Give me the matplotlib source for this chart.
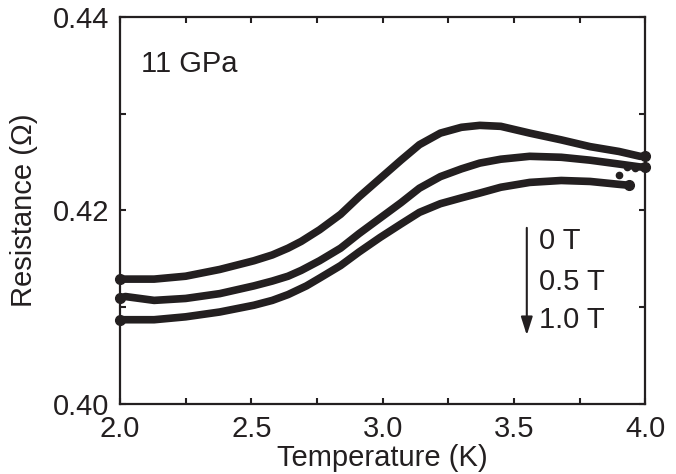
import matplotlib
matplotlib.use("Agg")
import matplotlib.pyplot as plt
from matplotlib.ticker import MultipleLocator

# -----------------------------
# Data
# -----------------------------
temp_0T = [2.00, 2.13, 2.25, 2.38, 2.51, 2.58, 2.64, 2.69, 2.76, 2.84,
           2.91, 2.99, 3.07, 3.14, 3.22, 3.30, 3.37, 3.45, 3.56, 3.68,
           3.79, 3.90, 3.98, 4.00]
res_0T = [0.4129, 0.4129, 0.4132, 0.4139, 0.4148, 0.4154, 0.4161, 0.4168,
          0.4180, 0.4196, 0.4214, 0.4233, 0.4252, 0.4268, 0.4280, 0.4286,
          0.4288, 0.4287, 0.4280, 0.4273, 0.4266, 0.4261, 0.4256, 0.4256]

temp_05T = [2.00, 2.02, 2.13, 2.25, 2.38, 2.51, 2.58, 2.64, 2.69, 2.76,
            2.84, 2.91, 2.99, 3.07, 3.14, 3.22, 3.30, 3.37, 3.45, 3.56,
            3.68, 3.79, 3.90, 3.98, 4.00]
res_05T = [0.4109, 0.4111, 0.4107, 0.4109, 0.4114, 0.4122, 0.4127, 0.4132,
           0.4138, 0.4148, 0.4161, 0.4176, 0.4192, 0.4208, 0.4223, 0.4235,
           0.4243, 0.4249, 0.4253, 0.4256, 0.4255, 0.4252, 0.4248, 0.4245,
           0.4245]

temp_10T = [2.00, 2.13, 2.25, 2.38, 2.51, 2.58, 2.64, 2.71, 2.76, 2.84,
            2.91, 2.99, 3.07, 3.14, 3.22, 3.30, 3.37, 3.45, 3.56, 3.68,
            3.79, 3.90, 3.94]
res_10T = [0.4087, 0.4087, 0.4090, 0.4095, 0.4102, 0.4107, 0.4113, 0.4122,
           0.4130, 0.4143, 0.4157, 0.4172, 0.4186, 0.4198, 0.4207, 0.4213,
           0.4218, 0.4224, 0.4229, 0.4231, 0.4230, 0.4227, 0.4226]

# stray points near the high-temperature end
stray_temp = [3.90, 3.93, 3.96]
stray_res = [0.4237, 0.4245, 0.4244]

field_labels = ["0 T", "0.5 T", "1.0 T"]

# -----------------------------
# Style
# -----------------------------
INK = "#231f20"
FONT_SIZE = 21

plt.rcParams["font.family"] = ["Liberation Sans", "DejaVu Sans"]

fig = plt.figure(figsize=(6.76, 4.74), dpi=100)
ax = fig.add_axes([0.1775, 0.148, 0.777, 0.816])

for t, r in [(temp_0T, res_0T), (temp_05T, res_05T), (temp_10T, res_10T)]:
    ax.plot(t, r, color=INK, linewidth=5.5, solid_capstyle="round",
            solid_joinstyle="round", clip_on=False, zorder=3)
    # thick end dots like the raw data points
    ax.plot([t[0], t[-1]], [r[0], r[-1]], "o", color=INK, markersize=7,
            clip_on=False, zorder=3)

ax.plot(stray_temp, stray_res, "o", color=INK, markersize=4.5, zorder=3)

ax.set_xlim(2.0, 4.0)
ax.set_ylim(0.40, 0.44)

ax.xaxis.set_major_locator(MultipleLocator(0.5))
ax.xaxis.set_minor_locator(MultipleLocator(0.25))
ax.yaxis.set_major_locator(MultipleLocator(0.02))
ax.yaxis.set_minor_locator(MultipleLocator(0.01))
ax.xaxis.set_major_formatter(plt.FuncFormatter(lambda v, _: f"{v:.1f}"))
ax.yaxis.set_major_formatter(plt.FuncFormatter(lambda v, _: f"{v:.2f}"))

ax.tick_params(which="both", direction="in", top=True, right=True,
               width=1.5, color=INK)
ax.tick_params(which="major", length=4.5, labelsize=FONT_SIZE,
               labelcolor=INK)
ax.tick_params(which="minor", length=4)
ax.tick_params(axis="x", pad=8)
ax.tick_params(axis="y", pad=8)

for spine in ax.spines.values():
    spine.set_color(INK)
    spine.set_linewidth(1.6)

ax.set_xlabel("Temperature (K)", fontsize=FONT_SIZE, color=INK, labelpad=1)
ax.set_ylabel("Resistance (\u03a9)", fontsize=FONT_SIZE, color=INK,
              labelpad=10)

ax.text(2.08, 0.4351, "11 GPa", fontsize=FONT_SIZE, color=INK,
        va="center", ha="left")

# field arrow and labels
ax.annotate("", xy=(3.549, 0.4071), xytext=(3.549, 0.4182),
            arrowprops=dict(arrowstyle="-|>,head_length=1.1,head_width=0.35",
                            color=INK, linewidth=1.5, shrinkA=0, shrinkB=0))
for lab, ypos in zip(field_labels, [0.4168, 0.4126, 0.4087]):
    ax.text(3.595, ypos, lab, fontsize=FONT_SIZE, color=INK,
            va="center", ha="left")

fig.savefig("out.png", dpi=100)
